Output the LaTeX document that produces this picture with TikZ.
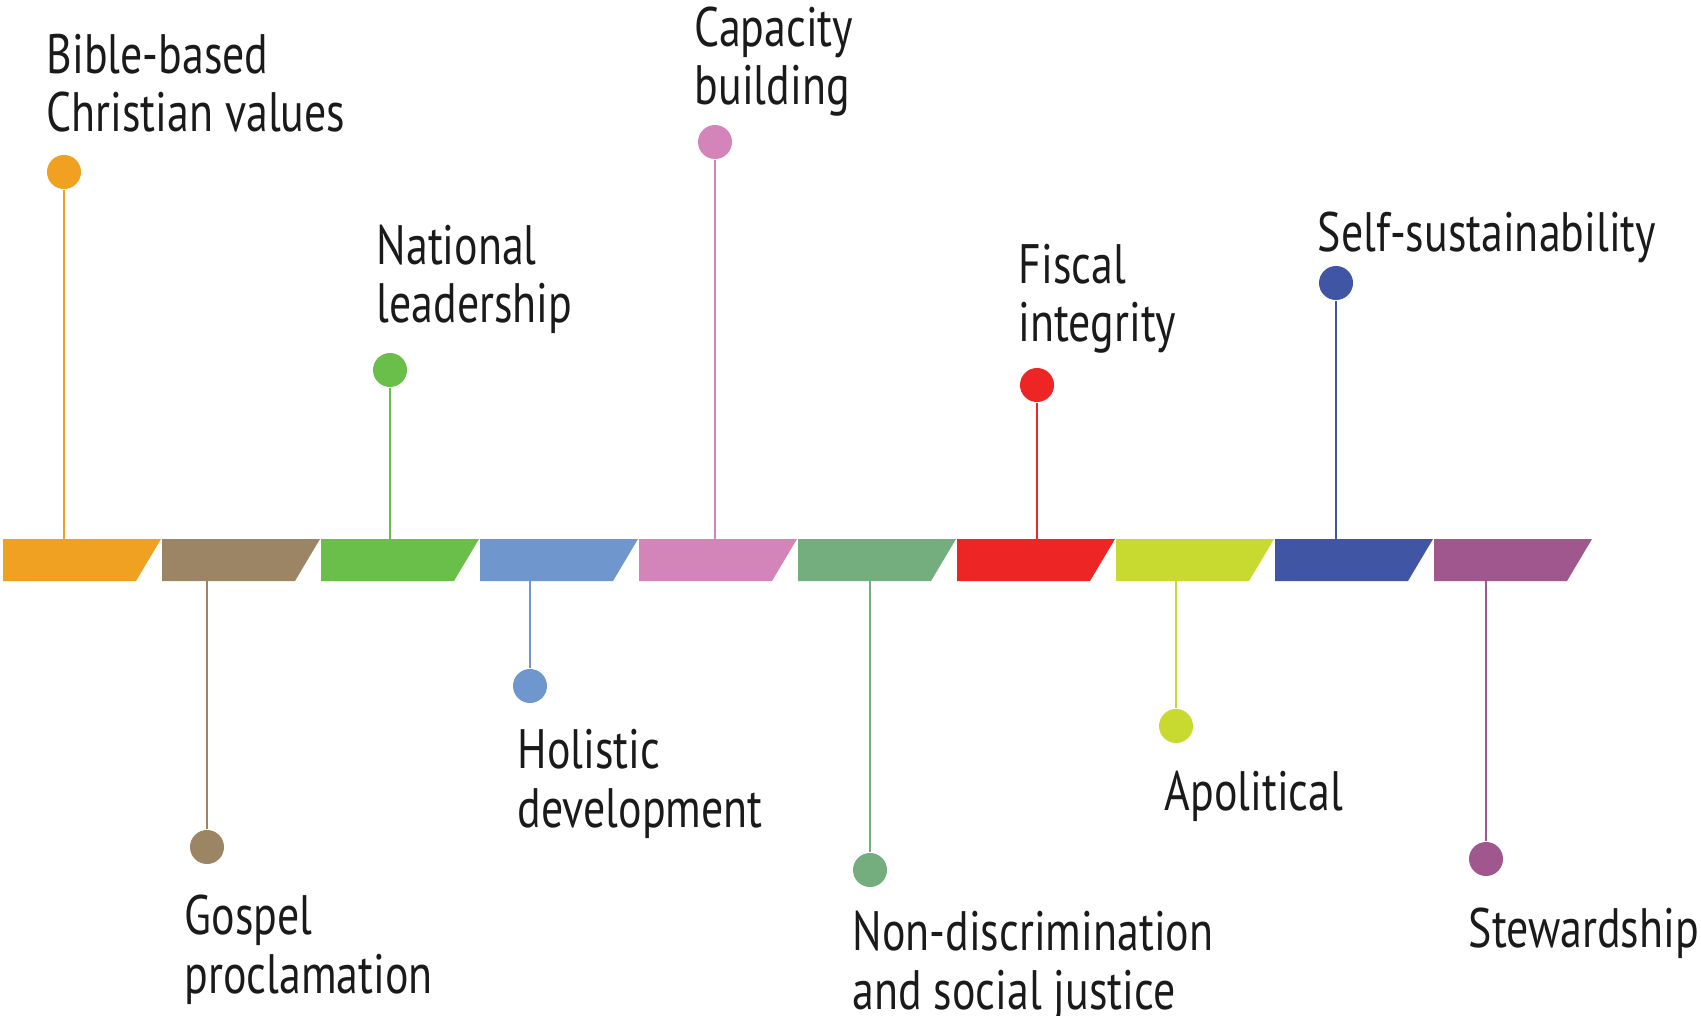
\documentclass[tikz,border=0pt]{standalone}
\usepackage{fontspec}
\setmainfont[FakeStretch=0.79]{PT Sans}
\usetikzlibrary{positioning}

\definecolor{cvalues}{HTML}{F0A122}
\definecolor{gospel}{HTML}{9C8565}
\definecolor{national}{HTML}{6ABF4B}
\definecolor{holistic}{HTML}{7096CE}
\definecolor{capacity}{HTML}{D385B9}
\definecolor{nondisc}{HTML}{74AD7E}
\definecolor{fiscal}{HTML}{ED2524}
\definecolor{apolit}{HTML}{C8DA2F}
\definecolor{selfsus}{HTML}{4155A5}
\definecolor{steward}{HTML}{9F578E}
\definecolor{labeltext}{HTML}{1A1A1A}

\begin{document}
\begin{tikzpicture}[%
    x=0.01cm,
    y=-0.01cm,
    dot/.style={%
        circle,
        inner sep=0pt,
        minimum size=0.34cm
    },
    stem/.style={%
        line width=0.8pt
    },
    lbl/.style={%
        anchor=base west,
        align=left,
        inner sep=0pt,
        text=labeltext,
        font=\fontsize{15.8}{16.7}\selectfont
    }
]

\useasboundingbox (0,0) rectangle (1701,1016);

% Bar segments
\fill[cvalues]  (3,539) -- (161,539) -- (136,581) -- (3,581) -- cycle;
\fill[gospel]   (162,539) -- (320,539) -- (295,581) -- (162,581) -- cycle;
\fill[national] (321,539) -- (479,539) -- (454,581) -- (321,581) -- cycle;
\fill[holistic] (480,539) -- (638,539) -- (613,581) -- (480,581) -- cycle;
\fill[capacity] (639,539) -- (797,539) -- (772,581) -- (639,581) -- cycle;
\fill[nondisc]  (798,539) -- (956,539) -- (931,581) -- (798,581) -- cycle;
\fill[fiscal]   (957,539) -- (1115,539) -- (1090,581) -- (957,581) -- cycle;
\fill[apolit]   (1116,539) -- (1274,539) -- (1249,581) -- (1116,581) -- cycle;
\fill[selfsus]  (1275,539) -- (1433,539) -- (1408,581) -- (1275,581) -- cycle;
\fill[steward]  (1434,539) -- (1592,539) -- (1567,581) -- (1434,581) -- cycle;

% Stem feet on the bar
\coordinate (foot1) at (64,539);
\coordinate (foot2) at (207,581);
\coordinate (foot3) at (390,539);
\coordinate (foot4) at (530,581);
\coordinate (foot5) at (715,539);
\coordinate (foot6) at (870,581);
\coordinate (foot7) at (1037,539);
\coordinate (foot8) at (1176,581);
\coordinate (foot9) at (1336,539);
\coordinate (foot10) at (1486,581);

% Dots
\node[dot, fill=cvalues]  (dot1) at (64,172) {};
\node[dot, fill=gospel]   (dot2) at (207,847) {};
\node[dot, fill=national] (dot3) at (390,370) {};
\node[dot, fill=holistic] (dot4) at (530,686) {};
\node[dot, fill=capacity] (dot5) at (715,142) {};
\node[dot, fill=nondisc]  (dot6) at (870,870) {};
\node[dot, fill=fiscal]   (dot7) at (1037,385) {};
\node[dot, fill=apolit]   (dot8) at (1176,726) {};
\node[dot, fill=selfsus]  (dot9) at (1336,283) {};
\node[dot, fill=steward]  (dot10) at (1486,859) {};

% Stems
\draw[stem, cvalues]  (foot1) -- (dot1);
\draw[stem, gospel]   (foot2) -- (dot2);
\draw[stem, national] (foot3) -- (dot3);
\draw[stem, holistic] (foot4) -- (dot4);
\draw[stem, capacity] (foot5) -- (dot5);
\draw[stem, nondisc]  (foot6) -- (dot6);
\draw[stem, fiscal]   (foot7) -- (dot7);
\draw[stem, apolit]   (foot8) -- (dot8);
\draw[stem, selfsus]  (foot9) -- (dot9);
\draw[stem, steward]  (foot10) -- (dot10);

% Labels (base = last line)
\node[lbl] (label1) at (46,132) {Bible-based\\Christian values};
\node[lbl] (label2) at (184,993) {Gospel\\proclamation};
\node[lbl] (label3) at (376,323) {National\\leadership};
\node[lbl] (label4) at (517,827) {Holistic\\development};
\node[lbl] (label5) at (694,105) {Capacity\\building};
\node[lbl] (label6) at (852,1009) {Non-discrimination\\and social justice};
\node[lbl] (label7) at (1018,342) {Fiscal\\integrity};
\node[lbl] (label8) at (1164,810) {Apolitical};
\node[lbl] (label9) at (1317,252) {Self-sustainability};
\node[lbl] (label10) at (1468,947) {Stewardship};

\end{tikzpicture}
\end{document}
